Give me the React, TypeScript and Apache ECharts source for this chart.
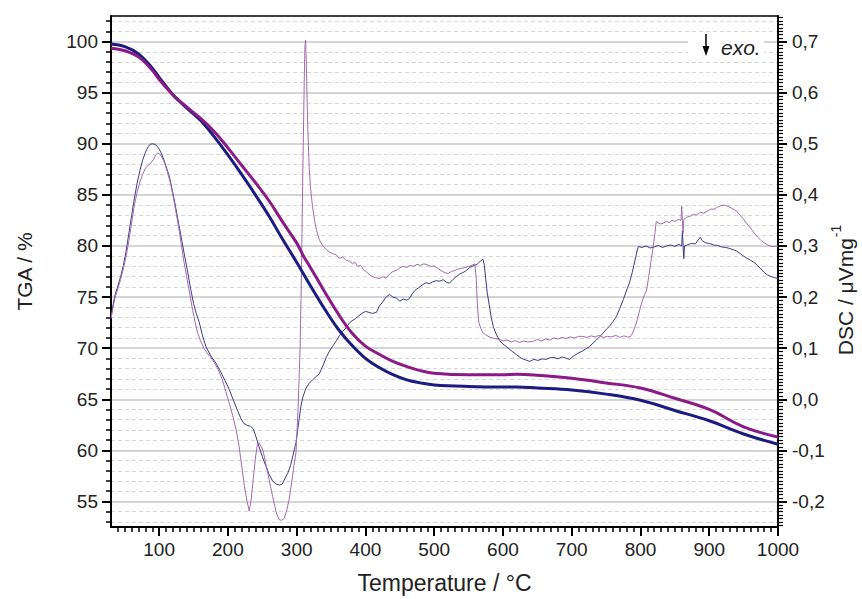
import React, { useEffect, useRef } from "react";
import * as echarts from "echarts";

const FONT = "Liberation Sans, Arial, sans-serif";

const xTicks = [100, 200, 300, 400, 500, 600, 700, 800, 900, 1000];
const tgaTicks = [55, 60, 65, 70, 75, 80, 85, 90, 95, 100];
const dscTicks = [-0.2, -0.1, 0, 0.1, 0.2, 0.3, 0.4, 0.5, 0.6, 0.7];

const tgaBlue: [number, number][] = [
  [30, 99.75], [50, 99.5], [70, 98.8], [90, 97.4], [100, 96.5], [120, 94.8], [140, 93.5],
  [160, 92.3], [180, 90.7], [200, 88.9], [220, 87.0], [240, 85.0], [260, 82.9], [280, 80.6],
  [300, 78.4], [320, 76.1], [340, 73.9], [360, 71.9], [380, 70.3], [400, 69.0], [420, 68.1],
  [440, 67.4], [460, 66.9], [480, 66.6], [500, 66.4], [550, 66.25], [600, 66.2], [620, 66.2],
  [650, 66.1], [700, 65.9], [750, 65.5], [800, 64.9], [850, 63.9], [900, 62.9], [950, 61.6],
  [1000, 60.6],
];

const tgaPurple: [number, number][] = [
  [30, 99.35], [50, 99.1], [70, 98.5], [90, 97.2], [100, 96.3], [120, 94.8], [140, 93.6],
  [160, 92.5], [180, 91.2], [200, 89.6], [220, 87.9], [240, 86.2], [260, 84.4], [280, 82.3],
  [300, 80.3], [310, 79.0], [320, 77.9], [340, 75.6], [360, 73.4], [380, 71.5], [400, 70.2],
  [420, 69.4], [440, 68.7], [460, 68.2], [480, 67.8], [500, 67.55], [550, 67.4], [600, 67.4],
  [620, 67.45], [650, 67.35], [700, 67.05], [750, 66.6], [800, 66.1], [850, 65.1], [900, 64.0],
  [950, 62.3], [1000, 61.3],
];

const dscBlue: [number, number][] = [
  [30, 0.16], [33, 0.185], [36, 0.205], [40, 0.222], [44, 0.24], [48, 0.262], [52, 0.29], [56, 0.325],
  [60, 0.36], [64, 0.393], [68, 0.423], [72, 0.447], [76, 0.468], [80, 0.483], [84, 0.494], [87, 0.499],
  [91, 0.5], [95, 0.498], [99, 0.492], [103, 0.482], [107, 0.468], [111, 0.452], [115, 0.435], [119, 0.41],
  [123, 0.383], [127, 0.354], [131, 0.325], [136, 0.288], [141, 0.253], [146, 0.215], [150, 0.188],
  [154, 0.168], [158, 0.152], [163, 0.125], [168, 0.103], [175, 0.085], [183, 0.07], [190, 0.052],
  [196, 0.036], [202, 0.019], [208, -0.002], [214, -0.022], [219, -0.038], [223, -0.047], [228, -0.051],
  [233, -0.053], [237, -0.058], [241, -0.074], [245, -0.092], [250, -0.112], [255, -0.13], [260, -0.147],
  [265, -0.16], [270, -0.166], [275, -0.168], [279, -0.166], [283, -0.155], [287, -0.145], [291, -0.13],
  [295, -0.108], [299, -0.085], [303, -0.045], [306, -0.015], [309, 0.004], [313, 0.02], [318, 0.031],
  [323, 0.038], [328, 0.044], [333, 0.05], [338, 0.065], [343, 0.082], [348, 0.095], [353, 0.105],
  [358, 0.115], [362, 0.124], [367, 0.133], [372, 0.14], [377, 0.15], [382, 0.155], [386, 0.158],
  [390, 0.163], [395, 0.168], [400, 0.172], [405, 0.17], [410, 0.168], [416, 0.17], [420, 0.182],
  [425, 0.19], [430, 0.2], [435, 0.205], [440, 0.2], [445, 0.198], [450, 0.192], [455, 0.196],
  [460, 0.194], [464, 0.197], [468, 0.206], [472, 0.213], [477, 0.218], [483, 0.224], [488, 0.228],
  [493, 0.226], [498, 0.23], [503, 0.232], [508, 0.231], [513, 0.234], [518, 0.229], [522, 0.227],
  [527, 0.234], [532, 0.24], [537, 0.245], [542, 0.248], [547, 0.252], [551, 0.257], [555, 0.26],
  [559, 0.262], [563, 0.265], [567, 0.27], [571, 0.274], [573, 0.262], [575, 0.235], [577, 0.21],
  [580, 0.185], [583, 0.16], [586, 0.142], [590, 0.128], [595, 0.115], [600, 0.108], [605, 0.103],
  [612, 0.095], [620, 0.087], [627, 0.08], [633, 0.077], [639, 0.074], [645, 0.078], [651, 0.076],
  [657, 0.079], [663, 0.078], [668, 0.081], [674, 0.082], [680, 0.079], [686, 0.083], [692, 0.08],
  [697, 0.078], [703, 0.085], [709, 0.09], [715, 0.094], [721, 0.099], [726, 0.103], [731, 0.11],
  [736, 0.116], [741, 0.123], [746, 0.13], [751, 0.138], [755, 0.143], [760, 0.152], [765, 0.162],
  [770, 0.178], [775, 0.195], [780, 0.214], [784, 0.228], [788, 0.248], [792, 0.272], [795, 0.29],
  [797, 0.299], [802, 0.297], [808, 0.3], [814, 0.296], [820, 0.298], [826, 0.301], [832, 0.297],
  [838, 0.3], [844, 0.302], [850, 0.299], [856, 0.303], [860, 0.3], [861, 0.33], [862, 0.3],
  [863, 0.275], [864, 0.3], [868, 0.302], [874, 0.305], [880, 0.304], [884, 0.312], [887, 0.317],
  [890, 0.31], [895, 0.306], [900, 0.305], [906, 0.302], [912, 0.301], [918, 0.298], [924, 0.297],
  [930, 0.295], [936, 0.292], [940, 0.29], [945, 0.285], [950, 0.28], [955, 0.276], [960, 0.272],
  [965, 0.268], [970, 0.262], [975, 0.255], [980, 0.248], [985, 0.243], [990, 0.24], [995, 0.238],
  [1000, 0.236],
];

const dscPurple: [number, number][] = [
  [30, 0.158], [33, 0.18], [36, 0.2], [40, 0.216], [44, 0.235], [48, 0.255], [52, 0.28], [56, 0.31],
  [60, 0.345], [64, 0.38], [68, 0.405], [72, 0.425], [76, 0.44], [80, 0.452], [84, 0.458], [88, 0.462],
  [92, 0.47], [95, 0.478], [98, 0.482], [101, 0.48], [104, 0.474], [108, 0.462], [112, 0.445], [116, 0.425],
  [120, 0.4], [124, 0.37], [128, 0.34], [132, 0.305], [136, 0.27], [140, 0.24], [144, 0.21], [148, 0.18],
  [152, 0.152], [156, 0.13], [160, 0.115], [165, 0.1], [170, 0.09], [175, 0.082], [180, 0.072],
  [186, 0.058], [192, 0.038], [197, 0.015], [202, -0.008], [207, -0.032], [212, -0.06], [216, -0.09],
  [220, -0.13], [224, -0.17], [228, -0.2], [231, -0.219], [234, -0.195], [237, -0.155], [240, -0.115],
  [243, -0.088], [245, -0.085], [248, -0.092], [251, -0.1], [255, -0.125], [260, -0.157], [265, -0.19],
  [270, -0.22], [274, -0.235], [278, -0.237], [282, -0.233], [286, -0.215], [289, -0.196], [293, -0.16],
  [296, -0.13], [299, -0.105], [302, -0.02], [305, 0.1], [307, 0.25], [309, 0.45], [311, 0.62],
  [312, 0.69], [313, 0.703], [314, 0.66], [315, 0.6], [316, 0.54], [318, 0.46], [320, 0.415],
  [323, 0.378], [326, 0.35], [329, 0.33], [333, 0.312], [338, 0.3], [343, 0.293], [348, 0.288],
  [352, 0.285], [357, 0.283], [362, 0.276], [367, 0.278], [372, 0.272], [377, 0.27], [381, 0.265],
  [385, 0.268], [389, 0.26], [393, 0.262], [397, 0.254], [401, 0.25], [405, 0.245], [410, 0.24],
  [415, 0.238], [420, 0.236], [425, 0.24], [430, 0.237], [435, 0.245], [440, 0.25], [445, 0.252],
  [450, 0.257], [455, 0.26], [460, 0.258], [465, 0.262], [470, 0.26], [475, 0.264], [480, 0.262],
  [485, 0.265], [490, 0.263], [495, 0.26], [500, 0.261], [505, 0.256], [510, 0.252], [515, 0.248],
  [520, 0.246], [525, 0.25], [530, 0.252], [535, 0.255], [540, 0.256], [545, 0.258], [550, 0.26],
  [555, 0.262], [559, 0.265], [561, 0.24], [563, 0.18], [565, 0.15], [568, 0.138], [571, 0.13],
  [575, 0.126], [580, 0.122], [585, 0.12], [590, 0.118], [595, 0.117], [600, 0.114], [606, 0.116],
  [612, 0.112], [618, 0.115], [624, 0.111], [630, 0.114], [636, 0.112], [643, 0.113], [650, 0.117],
  [656, 0.114], [662, 0.118], [668, 0.116], [674, 0.12], [680, 0.118], [686, 0.121], [692, 0.119],
  [698, 0.122], [704, 0.12], [710, 0.123], [716, 0.123], [722, 0.121], [728, 0.124], [734, 0.122],
  [740, 0.125], [746, 0.121], [752, 0.123], [758, 0.122], [764, 0.125], [770, 0.121], [776, 0.124],
  [781, 0.122], [785, 0.122], [788, 0.128], [791, 0.138], [794, 0.149], [798, 0.17], [802, 0.19],
  [806, 0.205], [809, 0.214], [812, 0.24], [815, 0.268], [818, 0.293], [821, 0.325], [823, 0.348],
  [826, 0.345], [830, 0.343], [834, 0.345], [838, 0.348], [842, 0.346], [846, 0.35], [850, 0.348],
  [855, 0.352], [859, 0.35], [860, 0.378], [861, 0.35], [862, 0.325], [863, 0.352], [867, 0.356],
  [872, 0.358], [877, 0.362], [882, 0.36], [887, 0.366], [892, 0.364], [897, 0.368], [902, 0.372],
  [907, 0.372], [912, 0.376], [917, 0.379], [922, 0.38], [926, 0.378], [930, 0.376], [935, 0.372],
  [940, 0.368], [945, 0.36], [950, 0.352], [955, 0.343], [960, 0.335], [965, 0.326], [970, 0.318],
  [975, 0.311], [980, 0.306], [985, 0.302], [990, 0.299], [995, 0.299], [1000, 0.3],
];

export default function App() {
  const ref = useRef<HTMLDivElement>(null);
  useEffect(() => {
    if (!ref.current) return;
    const chart = echarts.init(ref.current, undefined, { renderer: "svg" });
    const labelStyle = { fontFamily: FONT, fontSize: 19, color: "#222" };
    const nameStyle = { fontFamily: FONT, fontSize: 21, color: "#222" };
    chart.setOption({
      animation: false,
      backgroundColor: "#ffffff",
      grid: { left: 111, top: 16, right: 84, bottom: 71 },
      xAxis: [
        {
          type: "value",
          min: 30,
          max: 1000,
          splitNumber: 10,
          minInterval: 100,
          maxInterval: 100,
          position: "bottom",
          z: 3,
          axisLine: { show: true, onZero: false, lineStyle: { color: "#000", width: 2 } },
          axisTick: { show: true, inside: false, length: 9, customValues: xTicks, lineStyle: { color: "#000", width: 2 } },
          minorTick: { show: true, splitNumber: 10, length: 5, lineStyle: { color: "#000", width: 1.5 } },
          splitLine: { show: false },
          axisLabel: { ...labelStyle, margin: 13, showMinLabel: false, formatter: (v: number) => String(Math.round(v)) },
          name: "Temperature / °C",
          nameLocation: "middle",
          nameGap: 44,
          nameTextStyle: { ...nameStyle, fontSize: 23 },
        },
        {
          type: "value",
          min: 30,
          max: 1000,
          position: "top",
          z: 3,
          axisLine: { show: true, onZero: false, lineStyle: { color: "#000", width: 1.5 } },
          axisTick: { show: false },
          axisLabel: { show: false },
          splitLine: { show: false },
        },
      ],
      yAxis: [
        {
          type: "value",
          min: 52.5,
          max: 102.5,
          splitNumber: 10,
          minInterval: 5,
          maxInterval: 5,
          position: "left",
          z: 1,
          axisLine: { show: true, onZero: false, lineStyle: { color: "#000", width: 2 } },
          axisTick: { show: true, inside: false, length: 9, customValues: tgaTicks, lineStyle: { color: "#000", width: 2 } },
          minorTick: { show: true, splitNumber: 5, length: 5, lineStyle: { color: "#000", width: 1.5 } },
          splitLine: { show: true, lineStyle: { color: "#c6c6c6", width: 1.5 } },
          minorSplitLine: { show: true, lineStyle: { color: "#d6d6d6", width: 1, type: [4, 3] } },
          axisLabel: { ...labelStyle, margin: 13, showMinLabel: false, showMaxLabel: false, formatter: (v: number) => String(Math.round(v)) },
          name: "TGA / %",
          nameLocation: "middle",
          nameRotate: 90,
          nameGap: 76,
          nameTextStyle: nameStyle,
        },
        {
          type: "value",
          min: -0.25,
          max: 0.75,
          splitNumber: 10,
          minInterval: 0.1,
          maxInterval: 0.1,
          position: "right",
          z: 2,
          axisLine: { show: true, onZero: false, lineStyle: { color: "#000", width: 2 } },
          axisTick: { show: true, inside: false, length: 9, customValues: dscTicks, lineStyle: { color: "#000", width: 2 } },
          minorTick: { show: true, splitNumber: 15, length: 5, lineStyle: { color: "#000", width: 1.2 } },
          splitLine: { show: false },
          axisLabel: {
            ...labelStyle,
            margin: 14,
            showMinLabel: false,
            showMaxLabel: false,
            formatter: (v: number) => (Math.abs(v) < 1e-9 ? 0 : v).toFixed(1).replace(".", ","),
          },
        },
      ],
      graphic: [
        { type: "rect", shape: { x: 688, y: 34, width: 76, height: 26 }, style: { fill: "#ffffff" }, z: 10 },
        { type: "line", shape: { x1: 706, y1: 34, x2: 706, y2: 48 }, style: { stroke: "#000", lineWidth: 1.5 }, z: 11 },
        { type: "polygon", shape: { points: [[702.5, 46], [709.5, 46], [706, 56]] }, style: { fill: "#000" }, z: 11 },
        {
          type: "text",
          x: 721,
          y: 47,
          z: 11,
          style: { text: "exo.", fontFamily: FONT, fontSize: 21, fontStyle: "italic", fill: "#222", verticalAlign: "middle", align: "left" },
        },
        {
          type: "text",
          x: 845,
          y: 290,
          rotation: Math.PI / 2,
          z: 11,
          style: {
            text: "{a|DSC / μVmg}{b|-1}",
            align: "center",
            verticalAlign: "middle",
            rich: {
              a: { fontFamily: FONT, fontSize: 21, fill: "#222", lineHeight: 21, verticalAlign: "bottom" },
              b: { fontFamily: FONT, fontSize: 14, fill: "#222", lineHeight: 14, verticalAlign: "bottom", padding: [0, 0, 13, 1] },
            },
          },
        },
      ],
      series: [
        {
          type: "line", name: "DSC blue", xAxisIndex: 0, yAxisIndex: 1, data: dscBlue, showSymbol: false, z: 2,
          lineStyle: { color: "#3b3b8c", width: 1 },
        },
        {
          type: "line", name: "DSC purple", xAxisIndex: 0, yAxisIndex: 1, data: dscPurple, showSymbol: false, z: 2,
          lineStyle: { color: "#a46aac", width: 1 },
        },
        {
          type: "line", name: "TGA blue", xAxisIndex: 0, yAxisIndex: 0, data: tgaBlue, showSymbol: false, smooth: 0.4, z: 4,
          lineStyle: { color: "#1b1b80", width: 3 },
        },
        {
          type: "line", name: "TGA purple", xAxisIndex: 0, yAxisIndex: 0, data: tgaPurple, showSymbol: false, smooth: 0.4, z: 5,
          lineStyle: { color: "#8a1a86", width: 3 },
        },
      ],
    });
    return () => chart.dispose();
  }, []);
  return <div ref={ref} style={{ position: "fixed", left: 0, top: 0, width: 862, height: 599 }} />;
}
